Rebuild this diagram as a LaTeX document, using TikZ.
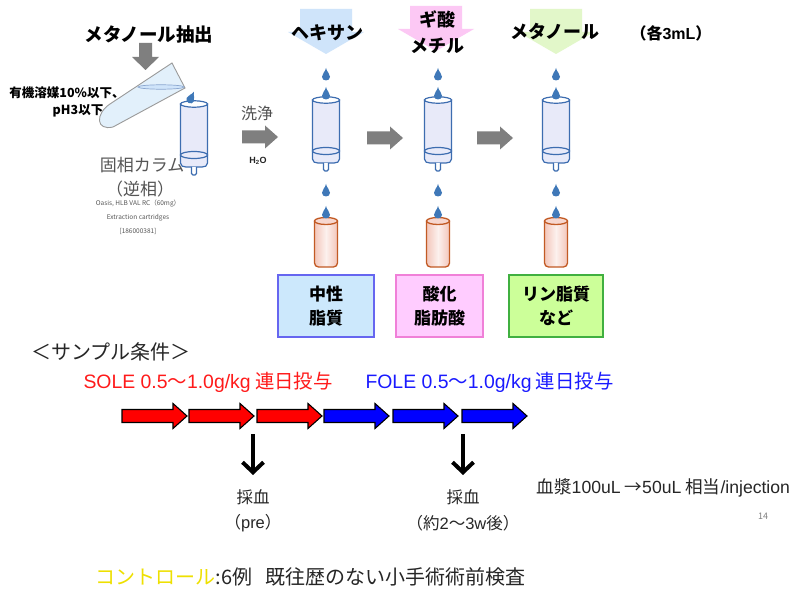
\documentclass[tikz,border=0pt]{standalone}
\usepackage{fontspec}
\setmainfont{Noto Sans CJK JP}
\newfontfamily\latinsans{Liberation Sans}
\usetikzlibrary{arrows.meta}

\definecolor{cartline}{HTML}{3D6DB0}
\definecolor{cartfill}{HTML}{E8EAF9}
\definecolor{dropblue}{HTML}{3F78B8}
\definecolor{tubeedge}{HTML}{C25A24}
\definecolor{tubefill}{HTML}{F3C6BA}
\definecolor{greyarrow}{HTML}{7F7F7F}
\definecolor{hexblue}{HTML}{CFE4FA}
\definecolor{fmpink}{HTML}{FCC8F4}
\definecolor{meohgreen}{HTML}{E2F7C9}
\definecolor{box1fill}{HTML}{CCE8FC}
\definecolor{box1edge}{HTML}{6666F0}
\definecolor{box2fill}{HTML}{FFCCFF}
\definecolor{box2edge}{HTML}{F080D8}
\definecolor{box3fill}{HTML}{CCFF99}
\definecolor{box3edge}{HTML}{40B040}
\definecolor{vialblue}{HTML}{E2F0FB}
\definecolor{vialedge}{HTML}{9A9A9A}
\definecolor{soleRed}{HTML}{FF1A1A}
\definecolor{foleBlue}{HTML}{1A1AFF}
\definecolor{ctrlYellow}{HTML}{EEE000}
\definecolor{darktext}{HTML}{262626}
\definecolor{greytext}{HTML}{555555}

\newcommand\fs[1]{\fontsize{#1}{#1}\selectfont}

\tikzset{
  x=1pt, y=-1pt,
  droplet/.pic={
    \fill[dropblue] (0,-7) .. controls (0.8,-3) and (4,-1.5) .. (4,1.8)
      .. controls (4,4.2) and (2.2,5.5) .. (0,5.5)
      .. controls (-2.2,5.5) and (-4,4.2) .. (-4,1.8)
      .. controls (-4,-1.5) and (-0.8,-3) .. cycle;
  },
  cartridge/.pic={
    \filldraw[draw=cartline, fill=cartfill, line width=1.2pt]
      (-13.5,0) -- (-13.5,59) .. controls (-13.5,62) and (-11,63) .. (-8,63)
      -- (8,63) .. controls (11,63) and (13.5,62) .. (13.5,59) -- (13.5,0) -- cycle;
    \filldraw[draw=cartline, fill=white, line width=1.2pt, rounded corners=1.5pt]
      (-2.5,63) -- (-2.5,71) -- (2.5,71) -- (2.5,63);
    \filldraw[draw=cartline, fill=cartfill, line width=1.2pt]
      (0,51) ellipse [x radius=13.5, y radius=3.5];
    \filldraw[draw=cartline, fill=white, line width=1.2pt]
      (0,0) ellipse [x radius=13.5, y radius=3.2];
  },
  vial/.pic={
    \path[left color=tubefill, right color=tubefill, middle color=tubefill!25]
      (-11.5,0) [rounded corners=4pt] -- (-11.5,46) -- (11.5,46) [sharp corners] -- (11.5,0) -- cycle;
    \draw[tubeedge, line width=1.3pt, rounded corners=4pt]
      (-11.5,0) -- (-11.5,46) -- (11.5,46) -- (11.5,0);
    \filldraw[draw=tubeedge, fill=tubefill!70, line width=1.3pt]
      (0,0) ellipse [x radius=11.5, y radius=3.5];
  },
  solvent/.pic={
    \fill (-26,9) -- (26,9) -- (26,32) -- (38,32) -- (0,54) -- (-38,32) -- (-26,32) -- cycle;
  },
  stepright/.pic={
    \fill[greyarrow] (0,-6.5) -- (23,-6.5) -- (23,-11.5) -- (36,0) -- (23,11.5) -- (23,6.5) -- (0,6.5) -- cycle;
  },
  dose/.pic={
    \filldraw[line width=1.1pt, draw=black] (0,-6.5) -- (51,-6.5) -- (51,-12.5) -- (65,0)
      -- (51,12.5) -- (51,6.5) -- (0,6.5) -- cycle;
  },
  fraction/.style={draw, line width=1.4pt, minimum width=#1, minimum height=62pt,
    align=center, font=\bfseries\fontsize{17}{24}\selectfont, inner sep=0pt},
  sampling/.style={line width=4pt, -{Straight Barb[length=10pt,width=21pt]}, shorten >=2pt},
}

\begin{document}
\begin{tikzpicture}
\useasboundingbox (0,0) rectangle (796,591);
\fill[white] (0,0) rectangle (796,591);

% ---------- methanol extraction ----------
\node[font=\bfseries\fs{18.5}] (meohext) at (149,34) {メタノール抽出};
\fill[greyarrow] (139,43) -- (152,43) -- (152,57) -- (159,57) -- (145.5,70) -- (132,57) -- (139,57) -- cycle;

% tilted sample vial
\filldraw[draw=vialedge, fill=vialblue, line width=0.9pt]
  (172,63) -- (110,104) .. controls (95,114) and (96,131) .. (113,127) -- (185,88) -- cycle;
\filldraw[draw=cartline!60, fill=hexblue, line width=0.7pt] (161,87) ellipse [x radius=23, y radius=2.2];

\node[font=\bfseries\fs{12.5}] (solv) at (67,93) {有機溶媒10\%以下、};
\node[font=\bfseries\fs{12.5}] (ph) at (78,111) {pH3以下};

% loading cartridge
\pic at (194,104) {cartridge};
\pic[rotate=-25] at (191,98) {droplet};

\node[font=\fs{17}, text=greytext] (spe) at (142,165) {固相カラム};
\node[font=\fs{17}, text=greytext] (rev) at (140,189) {（逆相）};
\node[font=\fs{6.5}, text=greytext] (cat1) at (138,204) {Oasis, HLB VAL RC（60mg）};
\node[font=\fs{6.5}, text=greytext] (cat2) at (138,218) {Extraction cartridges};
\node[font=\fs{6.5}, text=greytext] (cat3) at (138,231) {[186000381]};

% wash step
\node[font=\fs{16}, text=darktext!80] (wash) at (257,113) {洗浄};
\pic at (242,137) {stepright};
\node[font=\bfseries\latinsans\fs{9}, text=darktext] (water) at (258,161) {H\textsubscript{2}O};

% ---------- elution columns ----------
\pic[hexblue] at (326,0) {solvent};
\pic[fmpink] at (436,-3) {solvent};
\pic[meohgreen] at (556,0) {solvent};
\node[font=\bfseries\fs{18}] (hex) at (327,33) {ヘキサン};
\node[font=\bfseries\fs{18}] (mf1) at (437,19) {ギ酸};
\node[font=\bfseries\fs{18}] (mf2) at (437,46) {メチル};
\node[font=\bfseries\fs{18}] (meoh) at (555,32) {メタノール};
\node[font=\bfseries\fs{16}] (vol) at (671,33) {（各{\latinsans 3mL}）};

\foreach \cx in {326,438,556}{
  \pic at (\cx,75) {droplet};
  \pic at (\cx,100) {cartridge};
  \pic at (\cx,94) {droplet};
  \pic at (\cx,191) {droplet};
  \pic at (\cx,221) {vial};
  \pic at (\cx,213) {droplet};
}
\pic at (367,138) {stepright};
\pic at (477,138) {stepright};

\node[fraction=96pt, fill=box1fill, draw=box1edge] (neutral) at (326,306) {中性\\脂質};
\node[fraction=87pt, fill=box2fill, draw=box2edge] (acid) at (439.5,306) {酸化\\脂肪酸};
\node[fraction=94pt, fill=box3fill, draw=box3edge] (phos) at (556,306) {リン脂質\\など};

% ---------- sample conditions ----------
\node[font=\fs{20}, text=darktext, anchor=west] (cond) at (28,352) {＜サンプル条件＞};
\node[font=\fs{19.4}, text=soleRed, anchor=west] (sole) at (80,382)
  {{\latinsans SOLE 0.5}～{\latinsans 1.0g/kg} 連日投与};
\node[font=\fs{19.4}, text=foleBlue, anchor=west] (fole) at (362,382)
  {{\latinsans FOLE 0.5}～{\latinsans 1.0g/kg} 連日投与};

\foreach \sx in {122,189,257}{ \pic[fill=red] at (\sx,416) {dose}; }
\foreach \sx in {324,393,462}{ \pic[fill=blue] at (\sx,416) {dose}; }

\coordinate (tap1) at (253,434);
\coordinate (tap2) at (463,434);
\node[font=\fs{16.5}, text=darktext] (blood1) at (253,497) {採血};
\node[font=\fs{16.5}, text=darktext] (pre) at (253,523) {（{\latinsans pre}）};
\node[font=\fs{16.5}, text=darktext] (blood2) at (463,497) {採血};
\node[font=\fs{16.5}, text=darktext] (post) at (463,523) {（約{\latinsans 2}～{\latinsans 3w}後）};
\draw[sampling] (tap1) -- (253,477);
\draw[sampling] (tap2) -- (463,477);

\node[font=\fs{17.6}, text=darktext, anchor=west] (plasma) at (533,488)
  {血漿{\latinsans 100uL} →{\latinsans 50uL} 相当{\latinsans /injection}};
\node[font=\fs{9}, text=gray] (page) at (763,516) {14};

\node[font=\fs{20}, anchor=west] (ctrl) at (92,577)
  {\textcolor{ctrlYellow}{コントロール}\textcolor{darktext}{:6例\ \ \ 既往歴のない小手術術前検査}};
\end{tikzpicture}
\end{document}
